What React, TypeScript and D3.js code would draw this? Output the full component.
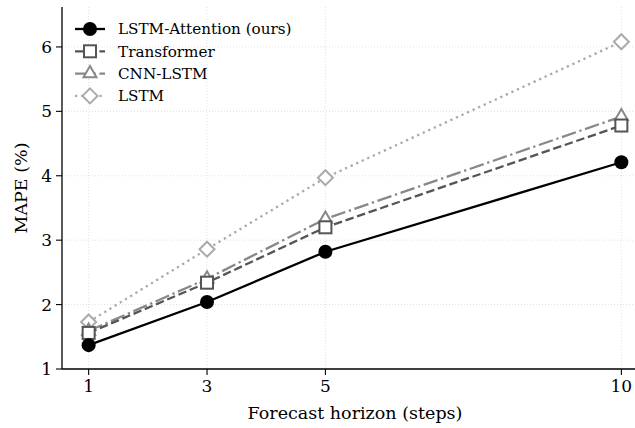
import React from "react";
import * as d3 from "d3";

const horizons = [1, 3, 5, 10];
const seriesNames = ["LSTM-Attention (ours)", "Transformer", "CNN-LSTM", "LSTM"];
const lstmAttention = [1.37, 2.04, 2.82, 4.21];
const transformer = [1.56, 2.34, 3.2, 4.78];
const cnnLstm = [1.59, 2.4, 3.33, 4.92];
const lstm = [1.73, 2.86, 3.97, 6.08];
const yTicks = [1, 2, 3, 4, 5, 6];
const xLabel = "Forecast horizon (steps)";
const yLabel = "MAPE (%)";

const W = 635, H = 428;
const left = 62, top = 7, bottom = 369, right = 648;
const FONT = "DejaVu Serif, serif";
const LW = 2.3;

const styles = [
  { color: "#000000", dash: "", marker: "circle" },
  { color: "#555555", dash: "8.5,3.7", marker: "square" },
  { color: "#888888", dash: "14.7,3.7,2.3,3.7", marker: "triangle" },
  { color: "#aaaaaa", dash: "2.3,3.8", marker: "diamond" },
];

function Marker({ type, color, x, y }: { type: string; color: string; x: number; y: number }) {
  if (type === "circle") return <circle cx={x} cy={y} r={7} fill={color} />;
  if (type === "square")
    return <rect x={x - 6} y={y - 6} width={12} height={12} fill="white" stroke={color} strokeWidth={2} />;
  if (type === "triangle") {
    const s = 7.5;
    return (
      <path
        d={`M${x},${y - s} L${x + s * 0.866},${y + s * 0.5} L${x - s * 0.866},${y + s * 0.5} Z`}
        fill="white"
        stroke={color}
        strokeWidth={2}
      />
    );
  }
  const s = 7.5;
  return (
    <path d={`M${x},${y - s} L${x + s},${y} L${x},${y + s} L${x - s},${y} Z`} fill="white" stroke={color} strokeWidth={2} />
  );
}

export default function App() {
  const x = d3.scaleLinear().domain([0.55, 10.45]).range([left, right]);
  const y = d3.scaleLinear().domain([1, 6.62]).range([bottom, top]);
  const data = [lstmAttention, transformer, cnnLstm, lstm];
  const line = d3
    .line<number>()
    .x((_, i) => x(horizons[i]))
    .y((d) => y(d));

  return (
    <svg width={W} height={H} style={{ position: "absolute", left: 0, top: 0, background: "white" }}>
      {horizons.map((h) => (
        <line key={"gx" + h} x1={x(h)} x2={x(h)} y1={top} y2={bottom} stroke="#d8d8d8" strokeWidth={0.8} strokeDasharray="1,2" />
      ))}
      {yTicks.map((t) => (
        <line key={"gy" + t} x1={left} x2={right} y1={y(t)} y2={y(t)} stroke="#d8d8d8" strokeWidth={0.8} strokeDasharray="1,2" />
      ))}
      {data
        .map((vals, i) => (
          <g key={"s" + i}>
            <path d={line(vals) || ""} fill="none" stroke={styles[i].color} strokeWidth={LW} strokeDasharray={styles[i].dash} />
            {vals.map((v, j) => (
              <Marker key={j} type={styles[i].marker} color={styles[i].color} x={x(horizons[j])} y={y(v)} />
            ))}
          </g>
        ))
        .reverse()}
      <line x1={left} x2={left} y1={top} y2={bottom} stroke="#000" strokeWidth={1.3} />
      <line x1={left} x2={right} y1={bottom} y2={bottom} stroke="#000" strokeWidth={1.3} />
      {yTicks.map((t) => (
        <g key={"yt" + t}>
          <line x1={left - 6} x2={left} y1={y(t)} y2={y(t)} stroke="#000" strokeWidth={1.1} />
          <text x={left - 10} y={y(t)} dy="0.36em" textAnchor="end" fontFamily={FONT} fontSize={17}>
            {t}
          </text>
        </g>
      ))}
      {horizons.map((h) => (
        <g key={"xt" + h}>
          <line x1={x(h)} x2={x(h)} y1={bottom} y2={bottom + 6} stroke="#000" strokeWidth={1.1} />
          <text x={x(h)} y={bottom + 23} textAnchor="middle" fontFamily={FONT} fontSize={17}>
            {h}
          </text>
        </g>
      ))}
      <text x={355} y={419} textAnchor="middle" fontFamily={FONT} fontSize={17.5}>
        {xLabel}
      </text>
      <text
        transform={`translate(27,${(top + bottom) / 2}) rotate(-90)`}
        textAnchor="middle"
        fontFamily={FONT}
        fontSize={17.5}
      >
        {yLabel}
      </text>
      {seriesNames.map((name, i) => {
        const ly = 29 + i * 22.3;
        return (
          <g key={"lg" + i}>
            <line x1={75} x2={105} y1={ly} y2={ly} stroke={styles[i].color} strokeWidth={LW} strokeDasharray={styles[i].dash} />
            <Marker type={styles[i].marker} color={styles[i].color} x={90} y={ly} />
            <text x={118} y={ly} dy="0.36em" fontFamily={FONT} fontSize={15.2}>
              {name}
            </text>
          </g>
        );
      })}
    </svg>
  );
}
